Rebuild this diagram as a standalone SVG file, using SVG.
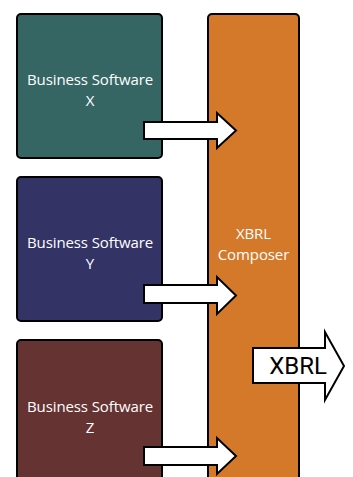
<svg xmlns="http://www.w3.org/2000/svg" width="353" height="477" viewBox="0 0 353 477">
<style>
.box{stroke:#000;stroke-width:2}
.lbl{font-family:"Open Sans","Noto Sans",sans-serif;font-size:15px;fill:#fff;text-anchor:middle;letter-spacing:-0.1px}
.arr{fill:#fff;stroke:#000;stroke-width:2;stroke-linejoin:miter}
</style>
<rect x="0" y="0" width="353" height="477" fill="#fff"/>
<g id="composer">
<rect class="box" x="208" y="14" width="91" height="480" rx="4" fill="#d4782a"/>
<text class="lbl" x="253.5" y="239">XBRL</text>
<text class="lbl" x="253.5" y="260">Composer</text>
</g>
<g id="softwareX">
<rect class="box" x="17" y="14" width="145" height="144" rx="4" fill="#356664"/>
<text class="lbl" x="90" y="85">Business Software</text>
<text class="lbl" x="90" y="106">X</text>
</g>
<g id="softwareY">
<rect class="box" x="17" y="177" width="145" height="144" rx="4" fill="#333366"/>
<text class="lbl" x="90" y="248">Business Software</text>
<text class="lbl" x="90" y="269">Y</text>
</g>
<g id="softwareZ">
<rect class="box" x="17" y="340" width="145" height="160" rx="4" fill="#663333"/>
<text class="lbl" x="90" y="412">Business Software</text>
<text class="lbl" x="90" y="433">Z</text>
</g>
<g id="connectors">
<path class="arr" d="M144,122 H217 V113 L236,130.5 L217,148 V139 H144 Z"/>
<path class="arr" d="M144,285 H217 V277 L236,295.5 L217,314 V303 H144 Z"/>
<path class="arr" d="M144,447 H217 V438 L236,456 L217,474 V465 H144 Z"/>
</g>
<g id="xbrl">
<path class="arr" stroke-width="1.5" d="M253,348 H325 V332 L344,366 L325,400 V383 H253 Z"/>
<text x="298" y="374" font-family="Roboto,'Liberation Sans',sans-serif" font-size="24" text-anchor="middle" fill="#000">XBRL</text>
</g>
</svg>
